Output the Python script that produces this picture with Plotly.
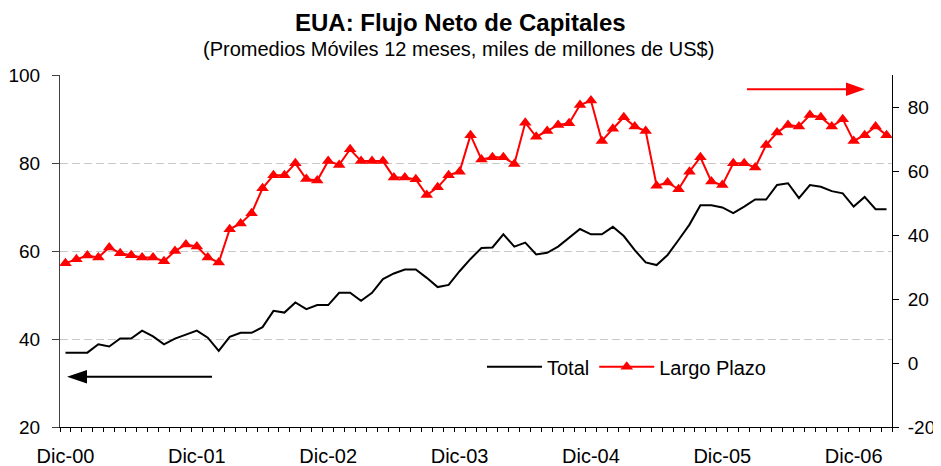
import plotly.graph_objects as go

# ---- data (monthly, 12-month moving averages) ----
MONTHS = list(range(76))  # Dic-00 ... Mar-07 (category index)
TOTAL = [36.9, 36.9, 36.9, 38.8, 38.3, 40.1, 40.1, 41.9, 40.6, 38.8,
         40.1, 41.0, 41.9, 40.3, 37.3, 40.5, 41.4, 41.4, 42.7, 46.4,
         46.0, 48.3, 46.8, 47.7, 47.7, 50.5, 50.5, 48.7, 50.5, 53.6,
         54.9, 55.8, 55.8, 53.9, 51.8, 52.3, 55.4, 58.2, 60.7, 60.8,
         63.8, 61.0, 61.9, 59.2, 59.6, 61.0, 62.9, 65.0, 63.8, 63.8,
         65.5, 63.4, 60.2, 57.4, 56.8, 59.1, 62.5, 66.0, 70.4, 70.4,
         69.9, 68.6, 70.1, 71.7, 71.7, 75.0, 75.4, 72.0, 75.0, 74.6,
         73.6, 73.1, 70.1, 72.3, 69.5, 69.5]
LARGO_PLAZO = [31.2, 32.4, 33.6, 33.0, 36.1, 34.3, 33.7, 33.0, 33.0, 31.8,
               35.0, 37.0, 36.4, 33.0, 31.4, 41.8, 43.6, 46.8, 54.6, 58.7,
               58.7, 62.4, 57.5, 57.0, 63.1, 61.9, 66.8, 63.1, 63.1, 63.1,
               58.0, 58.0, 57.4, 52.5, 54.9, 58.7, 59.8, 71.2, 63.6, 64.3,
               64.3, 62.2, 75.1, 70.7, 72.5, 74.4, 74.9, 80.6, 82.0, 69.4,
               73.2, 76.8, 73.9, 72.5, 55.4, 56.4, 54.3, 59.8, 64.3, 56.7,
               55.6, 62.4, 62.4, 61.1, 68.1, 72.0, 74.4, 73.9, 77.5, 76.8,
               73.9, 76.2, 69.4, 71.2, 73.9, 71.2]
TICK_POS = [0, 12, 24, 36, 48, 60, 72]
TICK_LABELS = ["Dic-00", "Dic-01", "Dic-02", "Dic-03", "Dic-04", "Dic-05", "Dic-06"]
LEFT_TICKS = [20, 40, 60, 80, 100]
RIGHT_TICKS = [-20, 0, 20, 40, 60, 80]
RIGHT_LABELS = ["-20", "0", "20", "40", "60", "80"]

FONT = "Liberation Sans, Arial, sans-serif"

# page: the figure starts inside the default 8px body margin and runs to the window edge
OFF = 8
W, H = 941 - OFF, 466 - OFF
# plot area in screen pixels
L, R, T, B = 60, 892, 75, 427


def px(x):
    return (x - L) / (R - L)


def py(y):
    return (B - y) / (B - T)


fig = go.Figure()
fig.add_trace(go.Scatter(
    x=MONTHS, y=TOTAL, name="Total", mode="lines",
    line=dict(color="black", width=2), yaxis="y"))
fig.add_trace(go.Scatter(
    x=MONTHS, y=LARGO_PLAZO, name="Largo Plazo", mode="lines+markers",
    line=dict(color="#ff0000", width=2),
    marker=dict(symbol="triangle-up", size=11, color="#ff0000"),
    yaxis="y2"))

shapes = []
# black arrow (left axis)
shapes.append(dict(type="line", xref="paper", yref="paper",
                   x0=px(212), x1=px(86), y0=py(376.7), y1=py(376.7),
                   line=dict(color="black", width=2)))
shapes.append(dict(type="path", xref="paper", yref="paper",
                   path=f"M {px(67)},{py(376.7)} L {px(87)},{py(370)} L {px(87)},{py(383.4)} Z",
                   fillcolor="black", line=dict(color="black", width=0)))
# red arrow (right axis)
shapes.append(dict(type="line", xref="paper", yref="paper",
                   x0=px(747), x1=px(847), y0=py(89.3), y1=py(89.3),
                   line=dict(color="#ff0000", width=2)))
shapes.append(dict(type="path", xref="paper", yref="paper",
                   path=f"M {px(865)},{py(89.3)} L {px(846)},{py(82.6)} L {px(846)},{py(96)} Z",
                   fillcolor="#ff0000", line=dict(color="#ff0000", width=0)))

annotations = [
    dict(text="<b>EUA: Flujo Neto de Capitales</b>", xref="paper", yref="paper",
         x=px(460), y=py(22.5), xanchor="center", yanchor="middle", showarrow=False,
         font=dict(family=FONT, size=24, color="black")),
    dict(text="(Promedios Móviles 12 meses, miles de millones de US$)", xref="paper", yref="paper",
         x=px(458), y=py(49), xanchor="center", yanchor="middle", showarrow=False,
         font=dict(family=FONT, size=20, color="black")),
]

fig.update_layout(
    width=W, height=H, autosize=False,
    margin=dict(l=L - OFF, r=941 - R, t=T - OFF, b=466 - B, pad=0),
    paper_bgcolor="white", plot_bgcolor="white",
    font=dict(family=FONT, size=20, color="black"),
    showlegend=True,
    legend=dict(orientation="h", x=px(482), y=py(366.7), xanchor="left", yanchor="middle",
                font=dict(family=FONT, size=20, color="black"),
                bgcolor="rgba(0,0,0,0)", itemwidth=55, tracegroupgap=0),
    xaxis=dict(range=[-0.5, 75.5], tickvals=TICK_POS, ticktext=TICK_LABELS,
               ticks="", showline=True, linecolor="black", linewidth=1,
               showgrid=False, zeroline=False, ticklabelstandoff=11, automargin=False,
               tickfont=dict(family=FONT, size=20, color="black"),
               minor=dict(ticks="outside", ticklen=4, tick0=-0.5, dtick=1,
                          tickcolor="black", showgrid=False)),
    yaxis=dict(range=[20, 100], tickvals=LEFT_TICKS, ticks="outside", ticklen=7,
               tickcolor="#404040", showline=True, linecolor="#404040", linewidth=1,
               showgrid=True, gridcolor="#c8c8c8", griddash="8px,4px", gridwidth=1,
               zeroline=False, ticklabelstandoff=8, automargin=False,
               tickfont=dict(family=FONT, size=19, color="black")),
    yaxis2=dict(range=[-20, 90], tickvals=RIGHT_TICKS, ticktext=RIGHT_LABELS,
                overlaying="y", side="right",
                ticks="outside", ticklen=6, tickcolor="black", showline=True,
                linecolor="black", linewidth=1, showgrid=False, zeroline=False,
                ticklabelstandoff=5, automargin=False,
                tickfont=dict(family=FONT, size=19, color="black")),
    shapes=shapes,
    annotations=annotations,
)

fig.write_html("out.html")
